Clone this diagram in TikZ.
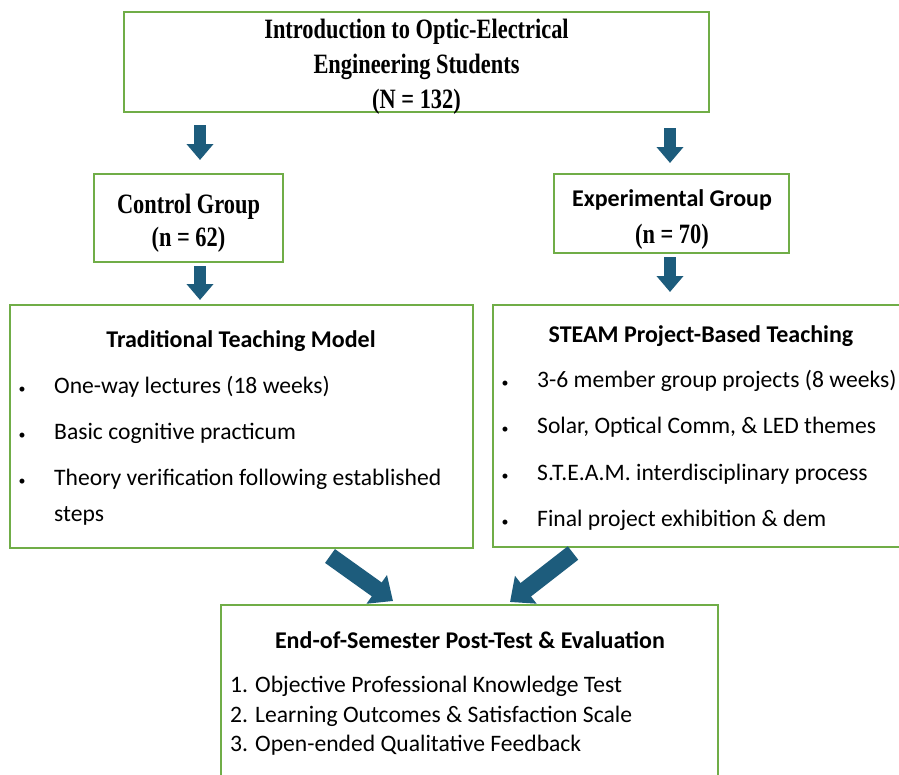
\documentclass[tikz,border=0pt]{standalone}
\usepackage{fontspec}
\setmainfont{Liberation Serif}
\newfontfamily\condserif[FakeStretch=0.80]{Liberation Serif}
\newfontfamily\calfont{Carlito}
\usetikzlibrary{arrows.meta}
\definecolor{boxgreen}{HTML}{70AD47}
\definecolor{arrowblue}{HTML}{1D5C7C}
\begin{document}
\begin{tikzpicture}[x=1pt,y=-1pt,
  box/.style={draw=boxgreen, line width=2pt, inner sep=0pt, outer sep=0pt, anchor=north west},
  serifb/.style={font=\condserif\fontsize{28}{32}\selectfont\bfseries, inner sep=0pt, anchor=base},
  sanstitle/.style={font=\calfont\fontsize{24}{28}\selectfont\bfseries, inner sep=0pt, anchor=base},
  bodytext/.style={font=\calfont\fontsize{23.6}{28}\selectfont, inner sep=0pt, anchor=base west},
  bulletmark/.style={font=\calfont\fontsize{14}{16}\selectfont, inner sep=0pt, anchor=base},
  varrow/.style={draw=arrowblue, line width=12pt, -{Triangle[width=26pt,length=16pt]}},
  darrow/.style={draw=arrowblue, line width=17pt, -{Triangle[width=34pt,length=20pt]}}]
\useasboundingbox (0,0) rectangle (899,774);
\clip (0,0) rectangle (899,774);
\fill[white] (0,0) rectangle (899,774);

% boxes
\node[box, minimum width=585pt, minimum height=100pt] (topbox) at (124,12) {};
\node[box, minimum width=189pt, minimum height=88pt] (ctrl) at (94,174) {};
\node[box, minimum width=235pt, minimum height=79pt] (exp) at (554,174) {};
\node[box, minimum width=463pt, minimum height=243pt] (trad) at (10,305) {};
\node[box, minimum width=430pt, minimum height=242pt] (steam) at (493,305) {};
\node[box, minimum width=497pt, minimum height=200pt] (eval) at (221,605) {};

% top box text
\node[serifb] (t1) at (416.5,38) {Introduction to Optic-Electrical};
\node[serifb] (t2) at (416.5,73) {Engineering Students};
\node[serifb] (t3) at (416.5,108) {(N = 132)};

% group boxes
\node[serifb] (c1) at (188.5,213) {Control Group};
\node[serifb] (c2) at (188.5,246) {(n = 62)};
\node[sanstitle] (e1) at (672,206) {Experimental Group};
\node[serifb] (e2) at (672,243) {(n = 70)};

% traditional
\node[sanstitle] (tr0) at (241,347) {Traditional Teaching Model};
\node[bulletmark] (trb1) at (22,393) {•};
\node[bodytext] (tr1) at (54,393) {One-way lectures (18 weeks)};
\node[bulletmark] (trb2) at (22,439) {•};
\node[bodytext] (tr2) at (54,439) {Basic cognitive practicum};
\node[bulletmark] (trb3) at (22,485) {•};
\node[bodytext] (tr3) at (54,485) {Theory verification following established};
\node[bodytext] (tr4) at (54,521) {steps};

% steam
\node[sanstitle] (st0) at (701,342) {STEAM Project-Based Teaching};
\node[bulletmark] (stb1) at (505,387) {•};
\node[bodytext] (st1) at (537,387) {3-6 member group projects (8 weeks)};
\node[bulletmark] (stb2) at (505,433) {•};
\node[bodytext] (st2) at (537,433) {Solar, Optical Comm, \& LED themes};
\node[bulletmark] (stb3) at (505,480) {•};
\node[bodytext] (st3) at (537,480) {S.T.E.A.M. interdisciplinary process};
\node[bulletmark] (stb4) at (505,526) {•};
\node[bodytext] (st4) at (537,526) {Final project exhibition \& dem};

% evaluation
\node[sanstitle] (ev0) at (470,648) {End-of-Semester Post-Test \& Evaluation};
\node[bodytext] (ev1) at (230,692) {1. Objective Professional Knowledge Test};
\node[bodytext] (ev2) at (230,722) {2. Learning Outcomes \& Satisfaction Scale};
\node[bodytext] (ev3) at (230,751) {3. Open-ended Qualitative Feedback};

% arrows
\coordinate (a1s) at (200,125); \coordinate (a1e) at (200,160);
\coordinate (a2s) at (670,128); \coordinate (a2e) at (670,163);
\coordinate (a3s) at (200,266); \coordinate (a3e) at (200,300);
\coordinate (a4s) at (670,257); \coordinate (a4e) at (670,292);
\coordinate (a5s) at (330,556); \coordinate (a5e) at (393,601);
\coordinate (a6s) at (573,553); \coordinate (a6e) at (510,602);
\draw[varrow] (a1s) -- (a1e);
\draw[varrow] (a2s) -- (a2e);
\draw[varrow] (a3s) -- (a3e);
\draw[varrow] (a4s) -- (a4e);
\draw[darrow] (a5s) -- (a5e);
\draw[darrow] (a6s) -- (a6e);
\end{tikzpicture}
\end{document}
